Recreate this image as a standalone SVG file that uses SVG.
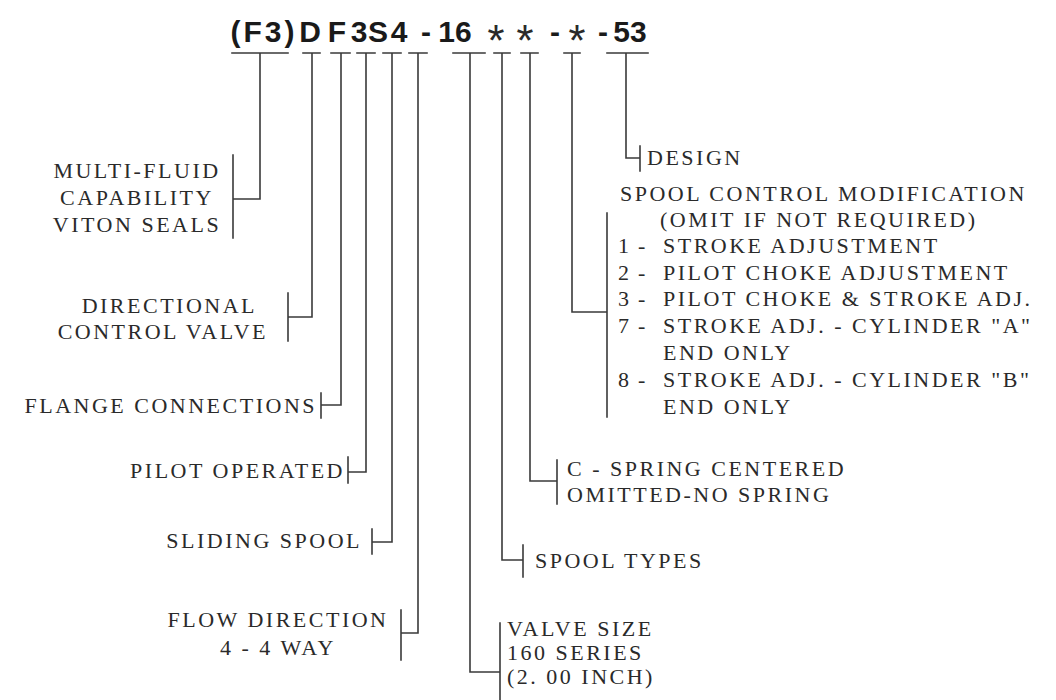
<svg xmlns="http://www.w3.org/2000/svg" width="1056" height="700" viewBox="0 0 1056 700">
<style>
.bg{fill:#ffffff}
.t{font-family:"Liberation Serif","Times New Roman",serif;font-size:22px;letter-spacing:2.5px;fill:#2a2a2a}
.e{text-anchor:end}
.m{text-anchor:middle}
.title{font-family:"Liberation Sans",Arial,sans-serif;font-size:30px;font-weight:bold;fill:#1a1a1a;text-anchor:middle}
.ast{font-family:"Liberation Mono","Courier New",monospace;font-size:44px;font-weight:normal;fill:#2a2a2a}
.ln{fill:none;stroke:#3a3a3a;stroke-width:1.6;stroke-linecap:square}
</style>
<rect class="bg" x="0" y="0" width="1056" height="700"/>

<g id="title">
<text class="title" y="42"><tspan x="264" letter-spacing="3">(F3)</tspan><tspan x="310">D</tspan><tspan x="337">F</tspan><tspan x="359">3</tspan><tspan x="378">S</tspan><tspan x="399">4</tspan><tspan x="426">-</tspan><tspan x="455">16</tspan><tspan class="ast" x="496" dy="15">*</tspan><tspan class="ast" x="525">*</tspan><tspan x="555" dy="-15">-</tspan><tspan class="ast" x="577" dy="15">*</tspan><tspan x="603" dy="-15">-</tspan><tspan x="630">53</tspan></text>
</g>

<g id="connectors">
<path class="ln" d="M232 53H288M260 53V199H233M233 155V238"/>
<path class="ln" d="M303 53H320M312 53V317H288M288 293V341"/>
<path class="ln" d="M331 53H350M341 53V405H321M321 393V418"/>
<path class="ln" d="M357 53H375M366 53V472H348M348 457V483"/>
<path class="ln" d="M383 53H401M392 53V542H372M372 529V554"/>
<path class="ln" d="M409 53H427M418 53V633H401M401 610V660"/>
<path class="ln" d="M453 53H485M470 53V672H500M500 623V700"/>
<path class="ln" d="M494 53H510M502 53V560H523M523 545V577"/>
<path class="ln" d="M521 53H538M530 53V481H557M557 460V504"/>
<path class="ln" d="M564 53H580M572 53V312H607M607 213V417"/>
<path class="ln" d="M607 53H648M626 53V158H640M640 146V171"/>
</g>

<g id="n-multifluid">
<text class="t m" x="137" y="178">MULTI-FLUID</text>
<text class="t m" x="137" y="205">CAPABILITY</text>
<text class="t m" x="137" y="232">VITON SEALS</text>
</g>
<g id="n-directional">
<text class="t e" x="257" y="313">DIRECTIONAL</text>
<text class="t e" x="268" y="339">CONTROL VALVE</text>
</g>
<g id="n-flange">
<text class="t e" x="317" y="413">FLANGE CONNECTIONS</text>
</g>
<g id="n-pilot">
<text class="t e" x="345" y="478">PILOT OPERATED</text>
</g>
<g id="n-sliding">
<text class="t e" x="362" y="548">SLIDING SPOOL</text>
</g>
<g id="n-flow">
<text class="t m" x="278" y="627">FLOW DIRECTION</text>
<text class="t m" x="278" y="655">4 - 4 WAY</text>
</g>
<g id="n-valvesize">
<text class="t" x="507" y="636">VALVE SIZE</text>
<text class="t" x="507" y="660">160 SERIES</text>
<text class="t" x="507" y="684">(2. 00 INCH)</text>
</g>
<g id="n-spooltypes">
<text class="t" x="535" y="568">SPOOL TYPES</text>
</g>
<g id="n-spring">
<text class="t" x="567" y="476">C - SPRING CENTERED</text>
<text class="t" x="567" y="502">OMITTED-NO SPRING</text>
</g>
<g id="n-spoolcontrol">
<text class="t" x="620" y="201">SPOOL CONTROL MODIFICATION</text>
<text class="t" x="660" y="227">(OMIT IF NOT REQUIRED)</text>
<text class="t" y="253"><tspan x="618">1</tspan><tspan x="638">-</tspan><tspan x="663">STROKE ADJUSTMENT</tspan></text>
<text class="t" y="280"><tspan x="618">2</tspan><tspan x="638">-</tspan><tspan x="663">PILOT CHOKE ADJUSTMENT</tspan></text>
<text class="t" y="306"><tspan x="618">3</tspan><tspan x="638">-</tspan><tspan x="663">PILOT CHOKE &amp; STROKE ADJ.</tspan></text>
<text class="t" y="333"><tspan x="618">7</tspan><tspan x="638">-</tspan><tspan x="663">STROKE ADJ. - CYLINDER "A"</tspan></text>
<text class="t" x="663" y="360">END ONLY</text>
<text class="t" y="387"><tspan x="618">8</tspan><tspan x="638">-</tspan><tspan x="663">STROKE ADJ. - CYLINDER "B"</tspan></text>
<text class="t" x="663" y="414">END ONLY</text>
</g>
<g id="n-design">
<text class="t" x="647" y="165">DESIGN</text>
</g>
</svg>
